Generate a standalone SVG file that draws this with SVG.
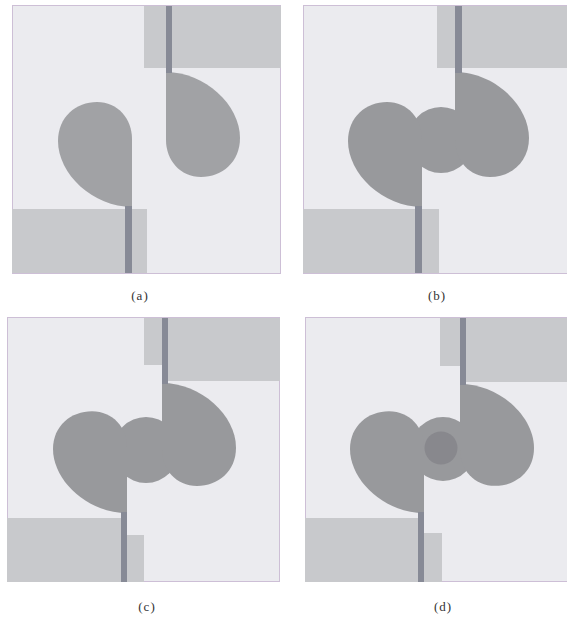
<svg xmlns="http://www.w3.org/2000/svg" xmlns:xlink="http://www.w3.org/1999/xlink" width="567" height="618" viewBox="0 0 567 618">
  <style>
    .panel { fill: #ebebef; stroke: #cdbfd6; stroke-width: 1; }
    .pad { fill: #c8c9cc; }
    .bar { fill: #878a96; }
    .drop { fill: #98999c; }
    .dropA { fill: #a1a2a5; }
    .mid { fill: #98999c; }
    .dark { fill: #88888d; }
    .lbl { font-family: "Liberation Serif", "DejaVu Serif", serif; font-size: 13px; letter-spacing: 1px; fill: #333; text-anchor: middle; }
  </style>
  <defs>
    <path id="tear" d="M0,0 C39,0 74,33 74,66 C74,90 56,105 35,105 C14,105 0,88 0,68 Z"/>
  </defs>
  <rect width="567" height="618" fill="#ffffff"/>

  <g id="panel-a">
    <rect class="panel" x="12.5" y="5.5" width="268" height="268"/>
    <rect class="pad" x="144" y="6" width="137" height="62"/>
    <rect class="pad" x="12" y="209" width="135" height="64"/>
    <use xlink:href="#tear" class="dropA" transform="translate(166,72)"/>
    <use xlink:href="#tear" class="dropA" transform="translate(132,207) rotate(180)"/>
    <rect class="bar" x="166" y="6" width="6" height="67"/>
    <rect class="bar" x="125" y="206" width="7" height="67"/>
    <text class="lbl" x="140" y="300">(a)</text>
  </g>

  <g id="panel-b">
    <rect class="panel" x="303.5" y="5.5" width="270" height="268"/>
    <rect class="pad" x="437" y="6" width="130" height="62"/>
    <rect class="pad" x="303" y="209" width="136" height="64"/>
    <circle class="mid" cx="441" cy="140" r="33"/>
    <use xlink:href="#tear" class="drop" transform="translate(455,72)"/>
    <use xlink:href="#tear" class="drop" transform="translate(422,207) rotate(180)"/>
    <rect class="bar" x="455" y="6" width="7" height="67"/>
    <rect class="bar" x="415" y="206" width="7" height="67"/>
    <text class="lbl" x="437" y="300">(b)</text>
  </g>

  <g id="panel-c">
    <rect class="panel" x="7.5" y="317.5" width="272" height="264"/>
    <rect class="pad" x="144" y="318" width="18" height="47"/>
    <rect class="pad" x="168" y="318" width="112" height="63"/>
    <rect class="pad" x="7" y="518" width="114" height="64"/>
    <rect class="pad" x="127" y="535" width="17" height="47"/>
    <circle class="mid" cx="146" cy="450" r="33"/>
    <use xlink:href="#tear" class="drop" transform="translate(162,383) scale(1,0.98)"/>
    <use xlink:href="#tear" class="drop" transform="translate(127,513) rotate(180) scale(1,0.97)"/>
    <rect class="bar" x="162" y="318" width="6" height="66"/>
    <rect class="bar" x="121" y="512" width="6" height="70"/>
    <text class="lbl" x="147" y="611">(c)</text>
  </g>

  <g id="panel-d">
    <rect class="panel" x="305.5" y="317.5" width="270" height="264"/>
    <rect class="pad" x="440" y="318" width="20" height="48"/>
    <rect class="pad" x="466" y="318" width="101" height="64"/>
    <rect class="pad" x="305" y="518" width="113" height="64"/>
    <rect class="pad" x="424" y="533" width="18" height="49"/>
    <circle class="mid" cx="443" cy="449" r="32"/>
    <circle class="dark" cx="441" cy="448" r="16.5"/>
    <use xlink:href="#tear" class="drop" transform="translate(460,384) scale(1,0.97)"/>
    <use xlink:href="#tear" class="drop" transform="translate(424,513) rotate(180) scale(1,0.97)"/>
    <rect class="bar" x="460" y="318" width="6" height="67"/>
    <rect class="bar" x="418" y="512" width="6" height="70"/>
    <text class="lbl" x="443" y="611">(d)</text>
  </g>
</svg>
